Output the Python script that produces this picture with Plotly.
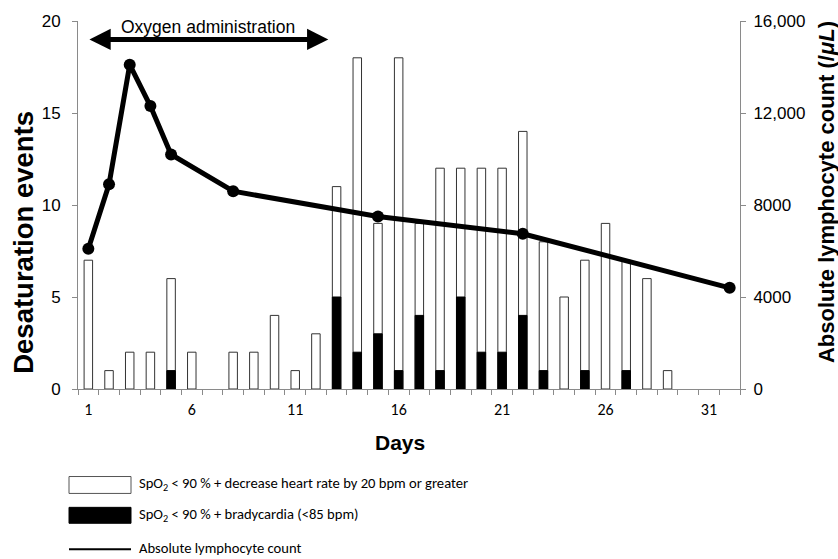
import plotly.graph_objects as go

days = list(range(1, 33))
total_events = [7, 1, 2, 2, 6, 2, 0, 2, 2, 4, 1, 3, 11, 18, 9, 18, 9, 12, 12, 12, 12, 14, 8, 5, 7, 9, 7, 6, 1, 0, 0, 0]
brady_events = [0, 0, 0, 0, 1, 0, 0, 0, 0, 0, 0, 0, 5, 2, 3, 1, 4, 1, 5, 2, 2, 4, 1, 0, 1, 0, 1, 0, 0, 0, 0, 0]
lymph_days = [1, 2, 3, 4, 5, 8, 15, 22, 32]
lymph_counts = [6100, 8900, 14100, 12300, 10200, 8600, 7500, 6750, 4400]
x_tickvals = [1, 6, 11, 16, 21, 26, 31]
y2_tickvals = [0, 4000, 8000, 12000, 16000]
y2_ticktext = ["0", "4000", "8000", "12,000", "16,000"]

ARIAL = "Liberation Sans, Arial, sans-serif"
CAL = "Carlito, Lato, sans-serif"
GREY = "#8a8a8a"

# hide zero-height bars (no visible mark in the reference)
total_plot = [v if v > 0 else None for v in total_events]
brady_plot = [v if v > 0 else None for v in brady_events]

fig = go.Figure()
fig.add_trace(go.Bar(x=days, y=total_plot, width=0.41,
                     marker=dict(color="white", line=dict(color="#333", width=1)),
                     name="total", showlegend=False))
fig.add_trace(go.Bar(x=days, y=brady_plot, width=0.41,
                     marker=dict(color="black", line=dict(color="black", width=1)),
                     name="brady", showlegend=False))
fig.add_trace(go.Scatter(x=lymph_days, y=lymph_counts, yaxis="y2", mode="lines+markers",
                         line=dict(color="black", width=5), marker=dict(color="black", size=12),
                         showlegend=False))

fig.update_layout(
    width=838, height=559,
    margin=dict(l=78, r=98, t=19, b=170),
    paper_bgcolor="white", plot_bgcolor="white",
    barmode="overlay",
    xaxis=dict(range=[0.5, 32.5], tickvals=x_tickvals, ticks="", showgrid=False, zeroline=False,
               showline=True, linecolor=GREY, linewidth=1,
               tickfont=dict(family=CAL, size=16, color="black"), ticklabelstandoff=6,
               minor=dict(tick0=0.5, dtick=1, ticks="outside", ticklen=5, tickcolor=GREY, showgrid=False)),
    yaxis=dict(range=[0, 20], dtick=5, ticks="outside", ticklen=5, tickcolor=GREY, showgrid=False,
               zeroline=False, showline=True, linecolor=GREY, linewidth=1,
               tickfont=dict(family=ARIAL, size=17, color="black"), ticklabelstandoff=8),
    yaxis2=dict(range=[0, 16000], overlaying="y", side="right", tickvals=y2_tickvals, ticktext=y2_ticktext,
                ticks="outside", ticklen=5, tickcolor=GREY, showgrid=False, zeroline=False,
                showline=True, linecolor=GREY, linewidth=1,
                tickfont=dict(family=ARIAL, size=17, color="black"), ticklabelstandoff=4),
    showlegend=False,
)


def px_x(v):
    return (v - 78) / 662


def px_y(v):
    return (389 - v) / 370


annotations = [
    # oxygen arrow
    dict(x=12.6, y=19, ax=0.98, ay=19, xref="x", yref="y", axref="x", ayref="y",
         showarrow=True, arrowhead=2, arrowside="end+start", arrowwidth=5, arrowsize=0.85,
         arrowcolor="black", text=""),
    dict(x=6.8, y=19.7, xref="x", yref="y", text="Oxygen administration", showarrow=False,
         xanchor="center", yanchor="middle",
         font=dict(family=ARIAL, size=17.5, color="black")),
    # axis titles
    dict(x=px_x(24), y=px_y(242), xref="paper", yref="paper", text="<b>Desaturation events</b>",
         xanchor="center", yanchor="middle",
         textangle=-90, showarrow=False, font=dict(family=ARIAL, size=27.5, color="black")),
    dict(x=px_x(826), y=px_y(191), xref="paper", yref="paper",
         text="<b>Absolute lymphocyte count (/<i>μL</i>)</b>",
         xanchor="center", yanchor="middle",
         textangle=-90, showarrow=False, font=dict(family=ARIAL, size=22, color="black")),
    dict(x=px_x(400), y=px_y(443), xref="paper", yref="paper", text="<b>Days</b>",
         xanchor="center", yanchor="middle",
         showarrow=False, font=dict(family=ARIAL, size=21, color="black")),
    # legend texts
    dict(x=px_x(137), y=px_y(485), xref="paper", yref="paper", xanchor="left", yanchor="middle",
         text="SpO<sub>2</sub> < 90 % + decrease heart rate by 20 bpm or greater", showarrow=False,
         font=dict(family=CAL, size=14.6, color="black")),
    dict(x=px_x(137), y=px_y(516), xref="paper", yref="paper", xanchor="left", yanchor="middle",
         text="SpO<sub>2</sub> < 90 % + bradycardia (<85 bpm)", showarrow=False,
         font=dict(family=CAL, size=14.6, color="black")),
    dict(x=px_x(137), y=px_y(549), xref="paper", yref="paper", xanchor="left", yanchor="middle",
         text="Absolute lymphocyte count", showarrow=False,
         font=dict(family=CAL, size=14.6, color="black")),
]
fig.update_layout(annotations=annotations)

shapes = [
    dict(type="rect", xref="paper", yref="paper", x0=px_x(69), x1=px_x(131), y0=px_y(494), y1=px_y(477),
         fillcolor="white", line=dict(color="#555", width=1)),
    dict(type="rect", xref="paper", yref="paper", x0=px_x(69), x1=px_x(131), y0=px_y(524), y1=px_y(508),
         fillcolor="black", line=dict(color="black", width=1)),
    dict(type="line", xref="paper", yref="paper", x0=px_x(69), x1=px_x(131), y0=px_y(550), y1=px_y(550),
         line=dict(color="black", width=2)),
]
fig.update_layout(shapes=shapes)

fig.write_html("out.html", config={"displayModeBar": False},
               post_script="document.body.style.margin='0';")
